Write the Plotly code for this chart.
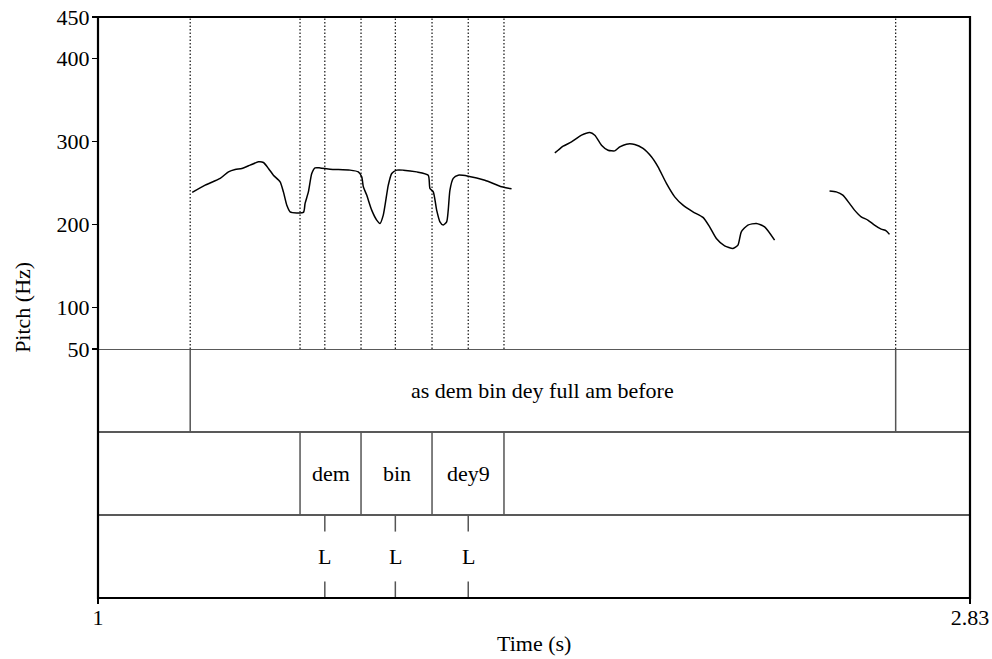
import plotly.graph_objects as go

# ---------------- data ----------------
seg1_t = [1.1977, 1.2249, 1.2564, 1.2738, 1.2878, 1.3019, 1.3193, 1.3367, 1.3472, 1.3577,
          1.3681, 1.3822, 1.3891, 1.3962, 1.4031, 1.4310, 1.4346, 1.4415, 1.4486, 1.4556,
          1.4661, 1.4870, 1.5289, 1.5463, 1.5535, 1.5568, 1.5639, 1.5744, 1.5849, 1.5918,
          1.5987, 1.6092, 1.6164, 1.6268, 1.6407, 1.6688, 1.6931, 1.6966, 1.7036, 1.7107,
          1.7176, 1.7245, 1.7317, 1.7350, 1.7386, 1.7455, 1.7560, 1.7769, 1.8119, 1.8470,
          1.8679]
seg1_hz = [238.6, 247.4, 255.5, 263.4, 266.3, 267.5, 271.5, 275.5, 274.7, 267.5,
           259.4, 251.4, 239.3, 223.3, 215.3, 214.5, 225.4, 239.3, 261.5, 268.2,
           268.2, 266.7, 265.5, 263.4, 257.4, 245.4, 235.4, 217.3, 205.3, 201.3,
           211.3, 247.4, 261.5, 265.5, 265.5, 263.4, 259.4, 243.4, 239.3, 217.3,
           203.2, 199.3, 203.2, 217.3, 241.4, 255.5, 259.4, 258.2, 253.4, 245.4,
           243.0]

seg2_t = [1.9587, 1.9656, 1.9761, 1.9937, 2.0147, 2.0321, 2.0426, 2.0566, 2.0704, 2.0845,
          2.0950, 2.1090, 2.1264, 2.1438, 2.1614, 2.1753, 2.1929, 2.2103, 2.2277, 2.2486,
          2.2696, 2.2836, 2.2977, 2.3151, 2.3325, 2.3430, 2.3501, 2.3639, 2.3816, 2.3990,
          2.4199]
seg2_hz = [286.3, 289.5, 294.3, 299.5, 307.6, 310.8, 307.6, 295.6, 289.5, 288.7,
           293.5, 296.8, 296.4, 291.6, 281.5, 269.4, 249.5, 233.3, 223.3, 215.3,
           208.5, 197.2, 183.2, 174.3, 171.2, 175.2, 191.2, 199.3, 201.3, 197.2,
           181.2]

seg3_t = [2.5352, 2.5493, 2.5631, 2.5771, 2.5876, 2.6017, 2.6155, 2.6296, 2.6436, 2.6541,
          2.6610]
seg3_hz = [240.5, 239.3, 235.4, 225.4, 217.3, 209.3, 205.3, 199.3, 194.4, 192.4,
           188.1]

tier1_bounds = [1.1935, 2.674]
tier1_labels = ["as dem bin dey full am before"]

tier2_bounds = [1.424, 1.552, 1.701, 1.852]
tier2_labels = ["dem", "bin", "dey9"]

tier3_points = [1.476, 1.624, 1.777]
tier3_labels = ["L", "L", "L"]

t_min, t_max = 1.0, 2.83
f_min, f_max = 50, 450
y_ticks = [50, 100, 200, 300, 400, 450]
x_ticks = [1, 2.83]
x_ticktext = ["1", "2.83"]

# ---------------- figure ----------------
FONT = "Liberation Serif"
FS = 22
pitch_dom = [0.4286, 1.0]
tier_dom = [0.0, 0.4286]
W, H = 992, 659
ML, MT, MR, MB = 97.7, 16.7, 21.5, 61
PW = W - ML - MR

fig = go.Figure()
for tt, hh in [(seg1_t, seg1_hz), (seg2_t, seg2_hz), (seg3_t, seg3_hz)]:
    fig.add_trace(go.Scatter(x=tt, y=hh, mode="lines",
                             line=dict(color="black", width=1.5, shape="spline", smoothing=0.6),
                             showlegend=False, hoverinfo="skip", yaxis="y"))

shapes = []
annotations = []

# dotted lines in pitch area at all boundaries / points
for b in tier1_bounds + tier2_bounds + tier3_points:
    shapes.append(dict(type="line", xref="x", yref="y", x0=b, x1=b, y0=f_min, y1=f_max,
                       line=dict(color="#111", width=1.2, dash="1.5px,2px"), layer="below"))

# tier separators
for yv in [1, 2, 3]:
    shapes.append(dict(type="line", xref="paper", yref="y2", x0=0, x1=1, y0=yv, y1=yv,
                       line=dict(color="#222", width=1.5)))

# tier 1 interval boundaries
for b in tier1_bounds:
    shapes.append(dict(type="line", xref="x", yref="y2", x0=b, x1=b, y0=2, y1=3,
                       line=dict(color="#555", width=1.5)))
annotations.append(dict(x=(tier1_bounds[0] + tier1_bounds[1]) / 2, y=2.5, xref="x", yref="y2",
                        text=tier1_labels[0], showarrow=False,
                        font=dict(family=FONT, size=FS, color="black")))

# tier 2 interval boundaries
for b in tier2_bounds:
    shapes.append(dict(type="line", xref="x", yref="y2", x0=b, x1=b, y0=1, y1=2,
                       line=dict(color="#555", width=1.5)))
for i, lab in enumerate(tier2_labels):
    annotations.append(dict(x=(tier2_bounds[i] + tier2_bounds[i + 1]) / 2, y=1.5,
                            xref="x", yref="y2", text=lab, showarrow=False,
                            font=dict(family=FONT, size=FS, color="black")))

# tier 3 points
for p, lab in zip(tier3_points, tier3_labels):
    shapes.append(dict(type="line", xref="x", yref="y2", x0=p, x1=p, y0=0.8, y1=1,
                       line=dict(color="#555", width=1.5)))
    shapes.append(dict(type="line", xref="x", yref="y2", x0=p, x1=p, y0=0, y1=0.2,
                       line=dict(color="#555", width=1.5)))
    annotations.append(dict(x=p, y=0.5, xref="x", yref="y2", text=lab, showarrow=False,
                            font=dict(family=FONT, size=FS, color="black")))

# outer frame
shapes.append(dict(type="rect", xref="paper", yref="paper", x0=0, x1=1, y0=0, y1=1,
                   line=dict(color="black", width=2.2)))

# axis titles
annotations.append(dict(x=0.5, y=0, xref="paper", yref="paper", yanchor="middle",
                        yshift=-45, text="Time (s)", showarrow=False,
                        font=dict(family=FONT, size=FS, color="black")))
annotations.append(dict(x=(22 - ML) / PW, y=0.5, xref="paper", yref="paper",
                        xanchor="center", yanchor="middle",
                        text="Pitch (Hz)", textangle=-90, showarrow=False,
                        font=dict(family=FONT, size=FS, color="black")))

fig.update_layout(
    width=W, height=H,
    margin=dict(l=ML, r=MR, t=MT, b=MB, autoexpand=False),
    paper_bgcolor="white", plot_bgcolor="white",
    shapes=shapes, annotations=annotations,
    xaxis=dict(range=[t_min, t_max], tickvals=x_ticks, ticktext=x_ticktext,
               ticks="outside", ticklen=5, tickwidth=1.5, tickcolor="black",
               ticklabelstandoff=-5, ticklabeloverflow="allow",
               showgrid=False, zeroline=False, showline=False, automargin=False,
               tickfont=dict(family=FONT, size=FS, color="black"), anchor="y2"),
    yaxis=dict(domain=pitch_dom, range=[f_min, f_max], tickvals=y_ticks,
               ticks="outside", ticklen=5, tickwidth=1.5, tickcolor="black",
               ticklabelstandoff=-2, ticklabeloverflow="allow",
               showgrid=False, zeroline=False, showline=False, automargin=False,
               tickfont=dict(family=FONT, size=FS, color="black")),
    yaxis2=dict(domain=tier_dom, range=[0, 3], showticklabels=False, ticks="",
                showgrid=False, zeroline=False, showline=False, automargin=False),
)

fig.write_html(
    "out.html",
    config={"displayModeBar": False, "staticPlot": True},
    post_script="document.body.style.margin='0';document.body.style.overflow='hidden';",
)
